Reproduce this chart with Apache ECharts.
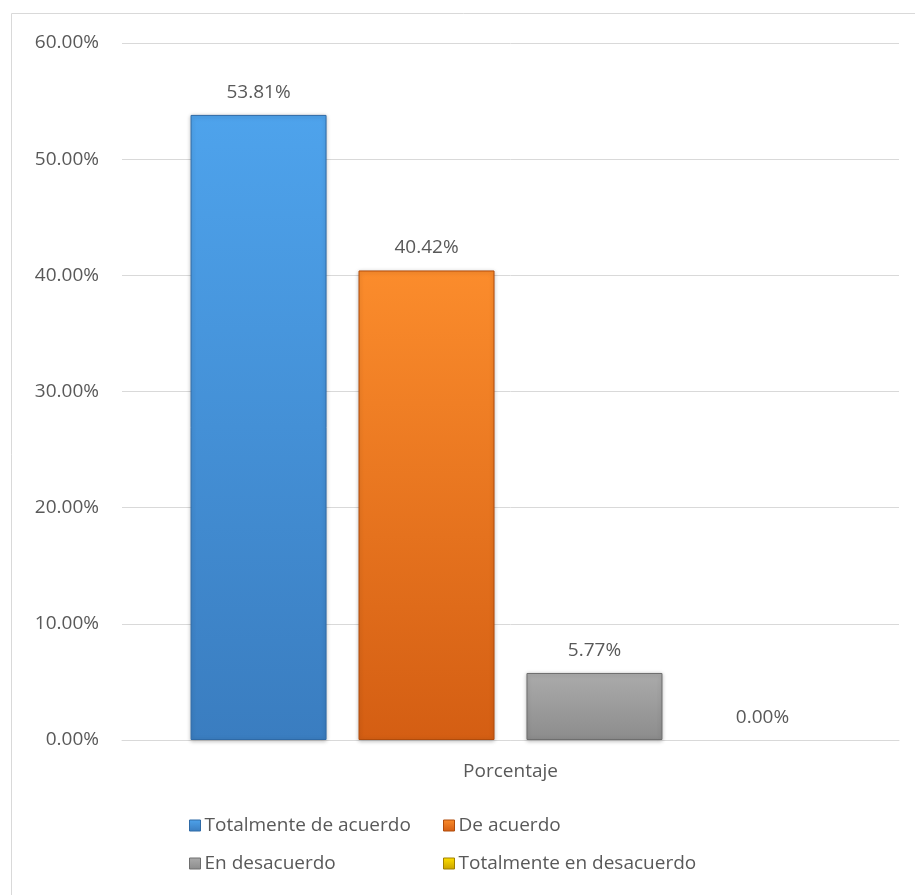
<!DOCTYPE html>
<html>
<head>
<meta charset="utf-8">
<script src="https://cdn.jsdelivr.net/npm/echarts@6/dist/echarts.min.js"></script>
<style>
  html, body { margin: 0; padding: 0; background: #fff; }
  #main { width: 915px; height: 895px; }
</style>
</head>
<body>
<div id="main"></div>
<script>
// datos del gráfico
const categories = ['Porcentaje'];
const seriesNames = ['Totalmente de acuerdo', 'De acuerdo', 'En desacuerdo', 'Totalmente en desacuerdo'];
const seriesValues = [53.81, 40.42, 5.77, 0.0];
const yTicks = [0, 10, 20, 30, 40, 50, 60];

const palette = [
  ['#4ea3ec', '#3a7dc0', '#2f6aa6'],
  ['#fb8c2c', '#d45e13', '#b04c0c'],
  ['#ababab', '#8c8c8c', '#6e6e6e'],
  ['#ffe000', '#c9a200', '#a08000'],
];
const textColor = '#595959';
const font = 'Open Sans';
const fontSize = 19;

const chartDom = document.getElementById('main');
const myChart = echarts.init(chartDom);

const grad = (c) => new echarts.graphic.LinearGradient(0, 0, 0, 1, [
  { offset: 0, color: c[0] },
  { offset: 1, color: c[1] },
]);

// elemento de leyenda con borde (la barra de 0% no lleva borde)
const legendItem = (i) => ({
  name: seriesNames[i],
  itemStyle: { borderWidth: 1, borderColor: palette[i][2] },
});

const legendBase = {
  orient: 'vertical',
  top: 811,
  itemGap: 19,
  itemWidth: 11,
  itemHeight: 11,
  icon: 'rect',
  textStyle: { color: textColor, fontSize: fontSize, fontFamily: font, padding: [0, 0, 0, -1] },
};

const option = {
  animation: false,
  textStyle: { fontFamily: font },
  graphic: [
    {
      type: 'rect',
      shape: { x: 11.5, y: 13.5, width: 910, height: 890 },
      style: { fill: 'none', stroke: '#d9d9d9', lineWidth: 1 },
    },
  ],
  grid: { left: 122, right: 16, top: 43, bottom: 155 },
  legend: [
    Object.assign({}, legendBase, { left: 184, data: [legendItem(0), legendItem(2)] }),
    Object.assign({}, legendBase, { left: 438, data: [legendItem(1), legendItem(3)] }),
  ],
  xAxis: {
    type: 'category',
    data: categories,
    axisLine: { lineStyle: { color: '#d9d9d9', width: 1 } },
    axisTick: { show: false },
    axisLabel: { color: textColor, fontSize: fontSize, margin: 22, fontFamily: font },
  },
  yAxis: {
    type: 'value',
    min: yTicks[0],
    max: yTicks[yTicks.length - 1],
    interval: 10,
    axisLine: { show: false },
    axisTick: { show: false },
    splitLine: { lineStyle: { color: '#d9d9d9', width: 1 } },
    axisLabel: {
      color: textColor,
      fontSize: fontSize,
      margin: 23,
      fontFamily: font,
      formatter: (v) => v.toFixed(2) + '%',
    },
  },
  series: seriesNames.map((name, i) => ({
    name: name,
    type: 'bar',
    data: [seriesValues[i]],
    barWidth: 136,
    barGap: '23.5%',
    itemStyle: {
      color: grad(palette[i]),
      borderColor: palette[i][2],
      borderWidth: seriesValues[i] > 0 ? 1 : 0,
      shadowColor: seriesValues[i] > 0 ? 'rgba(0,0,0,0.25)' : 'transparent',
      shadowBlur: 4,
      shadowOffsetY: 1,
    },
    label: {
      show: true,
      position: 'top',
      distance: 13,
      color: textColor,
      fontSize: fontSize,
      fontFamily: font,
      formatter: (p) => p.value.toFixed(2) + '%',
    },
  })),
};

myChart.setOption(option);
</script>
</body>
</html>
